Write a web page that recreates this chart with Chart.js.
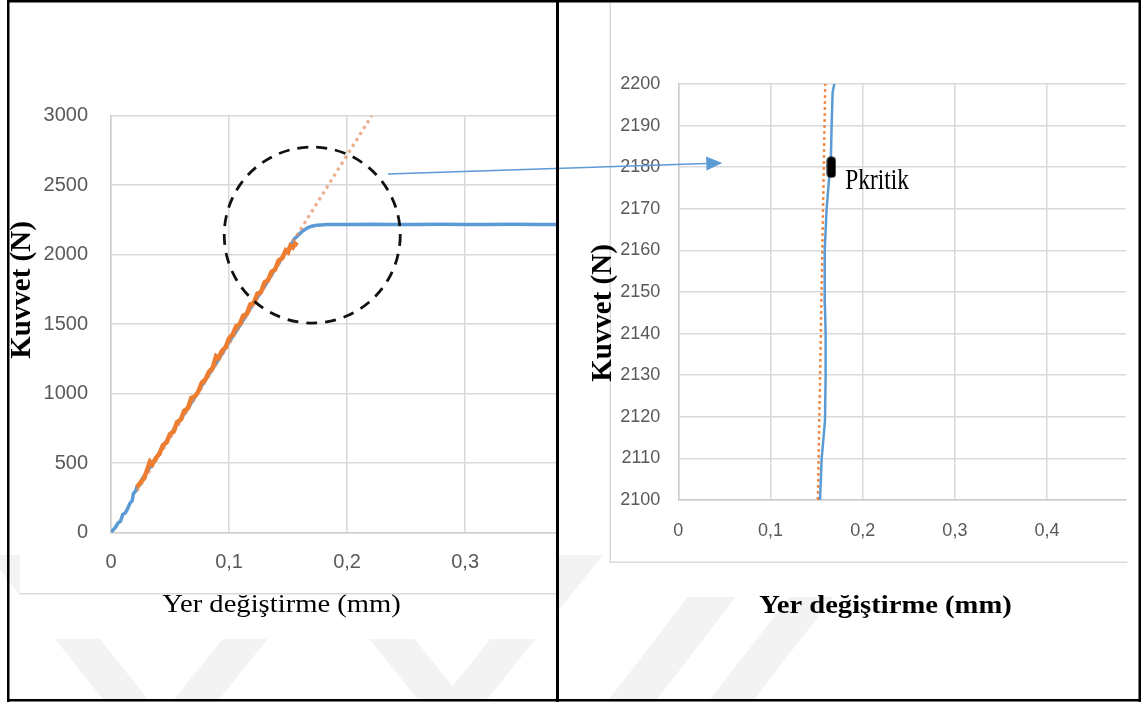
<!DOCTYPE html>
<html>
<head>
<meta charset="utf-8">
<script src="https://cdn.jsdelivr.net/npm/chart.js@4.4.1/dist/chart.umd.min.js"></script>
<style>
  html, body { margin: 0; padding: 0; background: #fff; }
  body { width: 1148px; height: 704px; position: relative; overflow: hidden; }
  canvas { position: absolute; top: 0; }
  #bg, #overlay { left: 0; }
  #mainChart { left: 0; }
  #detailChart { left: 559px; }
  #overlay { pointer-events: none; }
</style>
</head>
<body>
<canvas id="bg" width="1148" height="704"></canvas>
<canvas id="mainChart" width="556" height="704"></canvas>
<canvas id="detailChart" width="589" height="704"></canvas>
<canvas id="overlay" width="1148" height="704"></canvas>
<script>
// ---- Main view: load–displacement record ----
const curveX = [0, 0.004, 0.006, 0.008, 0.010, 0.012, 0.014, 0.016, 0.018, 0.019, 0.021, 0.022, 0.024, 0.026, 0.029, 0.033,
  0.040, 0.050, 0.060, 0.070, 0.080, 0.090, 0.100, 0.110, 0.120, 0.130, 0.140, 0.148, 0.152, 0.155, 0.158, 0.161,
  0.164, 0.167, 0.170, 0.174, 0.178, 0.183, 0.190, 0.200, 0.220, 0.240, 0.260, 0.280, 0.300, 0.320, 0.340, 0.360, 0.377];
const curveY = [0, 40, 70, 80, 130, 140, 170, 210, 230, 280, 300, 330, 340, 380, 420, 470,
  560, 700, 830, 960, 1100, 1230, 1370, 1500, 1640, 1770, 1910, 2020, 2060, 2110, 2135, 2160,
  2180, 2195, 2205, 2211, 2214, 2216, 2217, 2216, 2218, 2216, 2217, 2218, 2216, 2217, 2218, 2216, 2217];

// samples of the elastic (linear) region
const linearX = [0.022, 0.025, 0.028, 0.031, 0.033, 0.035, 0.038, 0.041, 0.044, 0.047, 0.050, 0.053, 0.056,
  0.059, 0.062, 0.065, 0.068, 0.071, 0.074, 0.077, 0.080, 0.083, 0.086, 0.089, 0.091, 0.094, 0.097, 0.100,
  0.103, 0.106, 0.109, 0.112, 0.115, 0.118, 0.121, 0.124, 0.127, 0.130, 0.133, 0.136, 0.139, 0.142, 0.145,
  0.148, 0.150, 0.152, 0.154, 0.156, 0.158];
const linearY = [325, 360, 390, 460, 510, 490, 536, 567, 628, 648, 709, 725, 795,
  811, 877, 893, 968, 979, 1015, 1081, 1101, 1157, 1183, 1269, 1256, 1307, 1332, 1398,
  1424, 1484, 1500, 1561, 1572, 1642, 1653, 1719, 1730, 1800, 1816, 1877, 1893, 1958, 1974,
  2030, 2017, 2064, 2051, 2078, 2066];

// fitted elastic line, end points
const fitX = [0.022, 0.2209];
const fitY = [299, 3000];

const mainTicksX = [0, 0.1, 0.2, 0.3];
const mainLabelsX = ['0', '0,1', '0,2', '0,3'];
const mainTicksY = [0, 500, 1000, 1500, 2000, 2500, 3000];
const mainLabelsY = ['0', '500', '1000', '1500', '2000', '2500', '3000'];

// ---- Detail view around the critical load ----
const detailX = [0.1525, 0.1537, 0.1555, 0.1575, 0.1591, 0.1598, 0.1598, 0.1590, 0.1585, 0.1591, 0.1609, 0.1638, 0.1656, 0.1663, 0.1674, 0.1692, 0.1720];
const detailY = [2095, 2100, 2110, 2115, 2119, 2130, 2140, 2147, 2150, 2160, 2170, 2178, 2183, 2190, 2198, 2200, 2204];
const detailFitX = [0.1506, 0.1602];
const detailFitY = [2090, 2210];
const plateauX = [0.411];
const plateauY = [2214];
const criticalX = [0.166];
const criticalY = [2180];

const detailTicksX = [0, 0.1, 0.2, 0.3, 0.4];
const detailLabelsX = ['0', '0,1', '0,2', '0,3', '0,4'];
const detailTicksY = [2100, 2110, 2120, 2130, 2140, 2150, 2160, 2170, 2180, 2190, 2200];
const detailLabelsY = ['2100', '2110', '2120', '2130', '2140', '2150', '2160', '2170', '2180', '2190', '2200'];

// call-out: ring on the main view and arrow into the detail view
const ringCenter = [0.1705, 2141];
const arrowFrom = [0.2347, 2580];
const arrowTo = [0.0477, 2181];

const BLUE = '#5b9bd5';
const ORANGE = '#ed7d31';
const GRID = '#d9d9d9';
const TICK = '#595959';

const pts = (xs, ys) => xs.map((x, i) => ({ x, y: ys[i] }));

Chart.defaults.font.family = "'Liberation Sans', Arial, sans-serif";

// text captions drawn on the chart canvas
const captions = {
  id: 'captions',
  afterDraw(chart, args, opts) {
    const ctx = chart.ctx;
    (opts.items || []).forEach(it => {
      ctx.save();
      ctx.translate(it.x, it.y);
      if (it.rotate) ctx.rotate(it.rotate);
      ctx.scale(it.sx || 1, 1);
      ctx.font = it.font;
      ctx.fillStyle = it.color || '#000';
      ctx.textAlign = 'center';
      ctx.textBaseline = 'middle';
      ctx.fillText(it.text, 0, 0);
      ctx.restore();
    });
  }
};

// dashed ring around the yield region
const focusRing = {
  id: 'focusRing',
  afterDatasetsDraw(chart, args, opts) {
    if (!opts.center) return;
    const ctx = chart.ctx;
    const cx = chart.scales.x.getPixelForValue(opts.center[0]);
    const cy = chart.scales.y.getPixelForValue(opts.center[1]);
    ctx.save();
    ctx.strokeStyle = '#111';
    ctx.lineWidth = 2.8;
    ctx.setLineDash([11, 8]);
    ctx.beginPath();
    ctx.arc(cx, cy, opts.radius, 0, Math.PI * 2);
    ctx.stroke();
    ctx.restore();
  }
};

// label beside the critical-load marker
const markerLabel = {
  id: 'markerLabel',
  afterDatasetsDraw(chart, args, opts) {
    if (!opts.text) return;
    const meta = chart.getDatasetMeta(opts.dataset);
    const el = meta.data[0];
    if (!el) return;
    const ctx = chart.ctx;
    ctx.save();
    ctx.translate(el.x + 14, el.y + 22);
    ctx.scale(0.78, 1);
    ctx.font = "30px 'Liberation Serif', 'Times New Roman', serif";
    ctx.fillStyle = '#000';
    ctx.textAlign = 'left';
    ctx.textBaseline = 'alphabetic';
    ctx.fillText(opts.text, 0, 0);
    ctx.restore();
  }
};

function axis(ticks, labels, min, max, fit, pad, font) {
  return {
    type: 'linear', min, max,
    afterBuildTicks: s => { s.ticks = ticks.map(v => ({ value: v })); },
    afterFit: fit,
    grid: { color: GRID, lineWidth: 1.5, drawTicks: false },
    border: { display: true, color: '#cdcdcd', width: 1.5 },
    ticks: {
      padding: pad, color: TICK, font, autoSkip: false, maxRotation: 0,
      callback: (v, i) => labels[i]
    }
  };
}

const mainChart = new Chart(document.getElementById('mainChart'), {
  type: 'scatter',
  data: {
    datasets: [
      { data: pts(linearX, linearY), showLine: true, borderColor: ORANGE, borderWidth: 4.5, pointRadius: 0, order: 1 },
      { data: pts(fitX, fitY), showLine: true, borderColor: 'rgba(226,140,95,0.7)', borderWidth: 3.2,
        borderDash: [3.2, 3.8], pointRadius: 0, order: 2 },
      { data: pts(curveX, curveY), showLine: true, borderColor: BLUE, borderWidth: 3.5, pointRadius: 0, order: 3 }
    ]
  },
  options: {
    responsive: false, animation: false, events: [],
    layout: { padding: { left: 0, right: 0, top: 115.7, bottom: 111.5 } },
    scales: {
      x: axis(mainTicksX, mainLabelsX, 0, 0.377,
        s => { s.height = 60; s.paddingLeft = 0; s.paddingRight = 0; }, 18, { size: 20 }),
      y: axis(mainTicksY, mainLabelsY, 0, 3000,
        s => { s.width = 111; s.paddingTop = 0; s.paddingBottom = 0; }, 23, { size: 20 })
    },
    plugins: {
      legend: { display: false }, tooltip: { enabled: false },
      focusRing: { center: ringCenter, radius: 88 },
      captions: { items: [
        { text: 'Kuvvet (N)', x: 23, y: 290, rotate: -Math.PI / 2, font: "bold 29px 'Liberation Serif', serif" },
        { text: 'Yer değiştirme (mm)', x: 281.5, y: 605, sx: 1.1, font: "26px 'Liberation Serif', serif" }
      ] }
    }
  },
  plugins: [focusRing, captions]
});

// critical-load marker glyph: rounded black bar
const markGlyph = document.createElement('canvas');
markGlyph.width = 10; markGlyph.height = 22;
(function () {
  const g = markGlyph.getContext('2d');
  g.fillStyle = '#000';
  g.beginPath();
  g.roundRect(0.5, 0.5, 9, 21, 4);
  g.fill();
})();

const detailFont = { size: 18 };

const detailChart = new Chart(document.getElementById('detailChart'), {
  type: 'scatter',
  data: {
    datasets: [
      { data: pts(criticalX, criticalY), pointStyle: markGlyph, pointRadius: 6, order: 0 },
      { data: pts(detailX, detailY), showLine: true, borderColor: BLUE, borderWidth: 2.5, pointRadius: 0, order: 1 },
      { data: pts(detailFitX, detailFitY), showLine: true, borderColor: ORANGE, borderWidth: 2.5,
        borderDash: [2.5, 3.5], pointRadius: 0, order: 2 },
      { data: pts(plateauX, plateauY), pointStyle: 'line', rotation: 90, pointRadius: 3,
        borderColor: BLUE, borderWidth: 2, backgroundColor: BLUE, clip: false, order: 3 }
    ]
  },
  options: {
    responsive: false, animation: false, events: [],
    layout: { padding: { left: 0, right: 22, top: 84, bottom: 144 } },
    scales: {
      x: axis(detailTicksX, detailLabelsX, 0, 0.4856,
        s => { s.height = 60; s.paddingLeft = 0; s.paddingRight = 0; }, 20, detailFont),
      y: axis(detailTicksY, detailLabelsY, 2100, 2200,
        s => { s.width = 119.3; s.paddingTop = 0; s.paddingBottom = 0; }, 18, detailFont)
    },
    plugins: {
      legend: { display: false }, tooltip: { enabled: false },
      markerLabel: { text: 'Pkritik', dataset: 0 },
      captions: { items: [
        { text: 'Kuvvet (N)', x: 45, y: 313, rotate: -Math.PI / 2, font: "bold 29px 'Liberation Serif', serif" },
        { text: 'Yer değiştirme (mm)', x: 326.5, y: 606, sx: 1.1, font: "bold 26px 'Liberation Serif', serif" }
      ] }
    }
  },
  plugins: [markerLabel, captions]
});

// ---- page background: faint watermark bands and the white plot sheets ----
(function () {
  const c = document.getElementById('bg').getContext('2d');
  c.fillStyle = '#fff';
  c.fillRect(0, 0, 1148, 704);
  c.fillStyle = '#f3f3f3';
  const band = (bx, tx, w) => {
    c.beginPath();
    c.moveTo(bx, 702); c.lineTo(bx + w, 702);
    c.lineTo(tx + w, 555); c.lineTo(tx, 555);
    c.closePath(); c.fill();
  };
  band(105, -12, 45);
  band(172, 290, 45);
  band(420, 302, 45);
  band(440, 558, 45);
  band(607, 720, 48);
  band(708, 822, 44);
  c.fillStyle = '#fff';
  c.fillRect(20, 3, 536, 636);
  c.fillRect(609, 3, 530, 594);
  c.fillStyle = '#d9d9d9';
  c.fillRect(20, 593, 536, 1.5);
  c.fillRect(609.5, 3, 1.5, 559);
  c.fillRect(609.5, 561.5, 518, 1.5);
})();

// ---- overlay: call-out arrow and panel frame ----
(function () {
  const c = document.getElementById('overlay').getContext('2d');
  const x0 = mainChart.scales.x.getPixelForValue(arrowFrom[0]);
  const y0 = mainChart.scales.y.getPixelForValue(arrowFrom[1]);
  const x1 = 559 + detailChart.scales.x.getPixelForValue(arrowTo[0]);
  const y1 = detailChart.scales.y.getPixelForValue(arrowTo[1]);
  const ang = Math.atan2(y1 - y0, x1 - x0);
  const len = 16, half = 7;
  const bx = x1 - len * Math.cos(ang), by = y1 - len * Math.sin(ang);
  c.strokeStyle = BLUE; c.fillStyle = BLUE; c.lineWidth = 1.5;
  c.beginPath(); c.moveTo(x0, y0); c.lineTo(bx, by); c.stroke();
  c.beginPath();
  c.moveTo(x1, y1);
  c.lineTo(bx + half * Math.sin(ang), by - half * Math.cos(ang));
  c.lineTo(bx - half * Math.sin(ang), by + half * Math.cos(ang));
  c.closePath(); c.fill();

  c.fillStyle = '#000';
  c.fillRect(7, 0, 2.5, 702);
  c.fillRect(7, 0, 1134, 2.5);
  c.fillRect(1138.5, 0, 2.5, 702);
  c.fillRect(7, 699, 1134, 2.5);
  c.fillRect(556, 0, 3, 702);
})();
</script>
</body>
</html>
